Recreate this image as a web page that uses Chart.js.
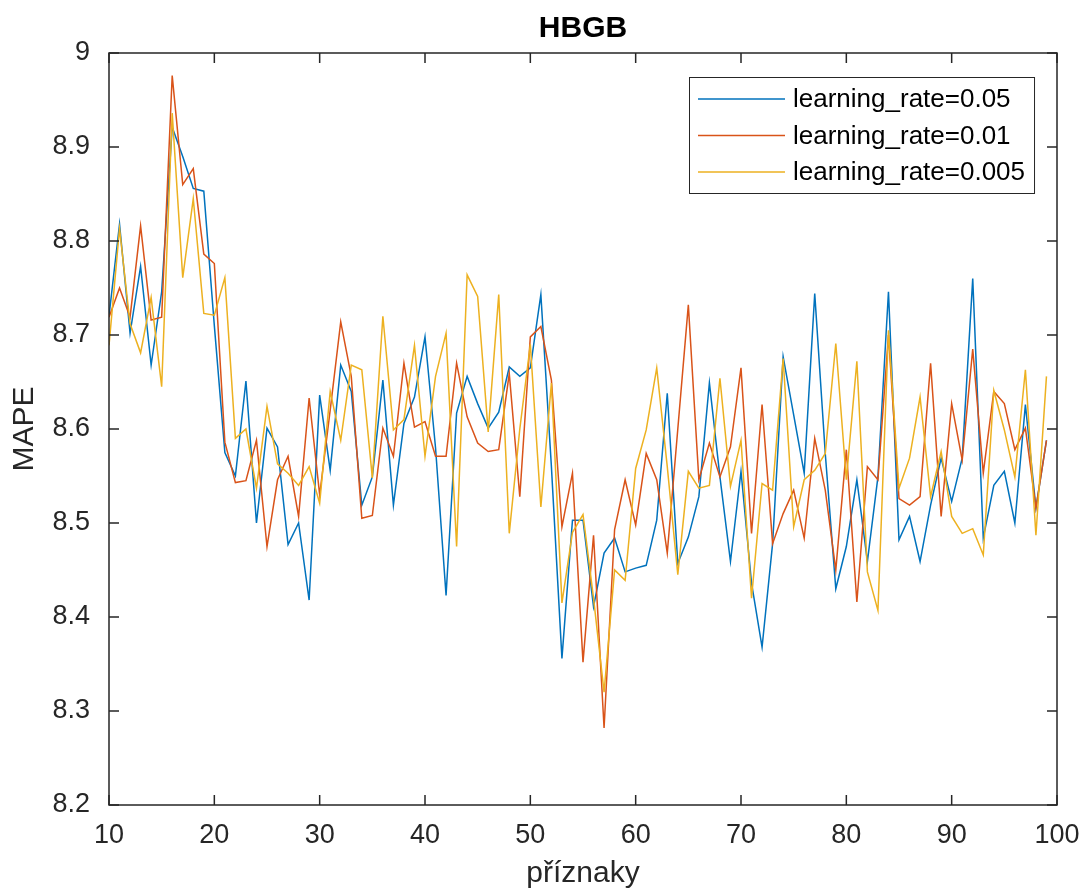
<!DOCTYPE html>
<html>
<head>
<meta charset="utf-8">
<title>HBGB</title>
<script src="https://cdn.jsdelivr.net/npm/chart.js@4.4.0/dist/chart.umd.min.js"></script>
<style>
  html, body { margin: 0; padding: 0; background: #fff; }
  #wrap { width: 1086px; height: 892px; }
</style>
</head>
<body>
<div id="wrap"><canvas id="chart" width="1086" height="892"></canvas></div>
<script>
// number of features (x axis)
const features = [10, 11, 12, 13, 14, 15, 16, 17, 18, 19,
    20, 21, 22, 23, 24, 25, 26, 27, 28, 29,
    30, 31, 32, 33, 34, 35, 36, 37, 38, 39,
    40, 41, 42, 43, 44, 45, 46, 47, 48, 49,
    50, 51, 52, 53, 54, 55, 56, 57, 58, 59,
    60, 61, 62, 63, 64, 65, 66, 67, 68, 69,
    70, 71, 72, 73, 74, 75, 76, 77, 78, 79,
    80, 81, 82, 83, 84, 85, 86, 87, 88, 89,
    90, 91, 92, 93, 94, 95, 96, 97, 98, 99];

// MAPE, learning_rate=0.05
const mape005 = [8.720, 8.818, 8.702, 8.773, 8.668, 8.746, 8.921, 8.890, 8.856, 8.853,
    8.710, 8.575, 8.550, 8.651, 8.500, 8.601, 8.581, 8.477, 8.500, 8.418,
    8.636, 8.556, 8.668, 8.640, 8.519, 8.549, 8.652, 8.519, 8.606, 8.634,
    8.698, 8.580, 8.423, 8.617, 8.656, 8.627, 8.601, 8.618, 8.666, 8.656,
    8.665, 8.743, 8.560, 8.356, 8.503, 8.503, 8.411, 8.468, 8.484, 8.448,
    8.452, 8.455, 8.503, 8.638, 8.457, 8.485, 8.528, 8.649, 8.549, 8.459,
    8.555, 8.436, 8.368, 8.478, 8.677, 8.615, 8.553, 8.744, 8.574, 8.430,
    8.475, 8.546, 8.459, 8.549, 8.746, 8.482, 8.507, 8.459, 8.519, 8.569,
    8.523, 8.569, 8.760, 8.484, 8.540, 8.555, 8.500, 8.626, 8.516, 8.588];

// MAPE, learning_rate=0.01
const mape001 = [8.719, 8.750, 8.719, 8.816, 8.716, 8.719, 8.976, 8.860, 8.877, 8.786,
    8.776, 8.586, 8.543, 8.545, 8.588, 8.475, 8.546, 8.571, 8.507, 8.633,
    8.530, 8.620, 8.714, 8.656, 8.505, 8.508, 8.601, 8.571, 8.670, 8.602,
    8.608, 8.571, 8.571, 8.670, 8.613, 8.585, 8.576, 8.578, 8.659, 8.528,
    8.698, 8.709, 8.652, 8.496, 8.553, 8.352, 8.487, 8.282, 8.493, 8.546,
    8.498, 8.574, 8.546, 8.468, 8.600, 8.732, 8.546, 8.585, 8.549, 8.581,
    8.665, 8.489, 8.626, 8.478, 8.510, 8.535, 8.484, 8.590, 8.535, 8.450,
    8.578, 8.416, 8.560, 8.546, 8.700, 8.526, 8.519, 8.528, 8.670, 8.507,
    8.627, 8.567, 8.685, 8.553, 8.640, 8.627, 8.578, 8.601, 8.516, 8.588];

// MAPE, learning_rate=0.005
const mape0005 = [8.689, 8.813, 8.712, 8.681, 8.740, 8.645, 8.936, 8.761, 8.845, 8.723,
    8.721, 8.761, 8.590, 8.600, 8.537, 8.624, 8.563, 8.553, 8.540, 8.560,
    8.521, 8.640, 8.588, 8.668, 8.663, 8.548, 8.720, 8.599, 8.610, 8.689,
    8.571, 8.656, 8.702, 8.475, 8.764, 8.741, 8.597, 8.743, 8.489, 8.600,
    8.690, 8.517, 8.649, 8.415, 8.490, 8.509, 8.420, 8.320, 8.450, 8.439,
    8.558, 8.599, 8.665, 8.560, 8.445, 8.555, 8.537, 8.540, 8.654, 8.539,
    8.588, 8.420, 8.542, 8.535, 8.675, 8.496, 8.546, 8.556, 8.574, 8.691,
    8.546, 8.672, 8.448, 8.407, 8.705, 8.537, 8.569, 8.634, 8.528, 8.576,
    8.507, 8.489, 8.494, 8.466, 8.641, 8.599, 8.549, 8.663, 8.487, 8.656];

const seriesNames = ['learning_rate=0.05', 'learning_rate=0.01', 'learning_rate=0.005'];
const xTickLabels = ['10', '20', '30', '40', '50', '60', '70', '80', '90', '100'];
const yTickLabels = ['8.2', '8.3', '8.4', '8.5', '8.6', '8.7', '8.8', '8.9', '9'];

const FONT = "'Liberation Sans', Arial, Helvetica, sans-serif";
const INK = '#262626';
const TICK = 10;

function points(ys) {
    return features.map((x, i) => ({ x: x, y: ys[i] }));
}

// matlab style box, inward ticks on all four sides, legend inside the axes
const frameAndLegend = {
    id: 'frameAndLegend',
    afterDatasetsDraw(chart) {
        const { ctx, chartArea: a, scales } = chart;
        ctx.save();
        ctx.strokeStyle = INK;
        ctx.lineWidth = 1.5;
        ctx.strokeRect(a.left, a.top, a.right - a.left, a.bottom - a.top);
        ctx.beginPath();
        scales.x.ticks.forEach(t => {
            const px = scales.x.getPixelForValue(t.value);
            ctx.moveTo(px, a.bottom); ctx.lineTo(px, a.bottom - TICK);
            ctx.moveTo(px, a.top); ctx.lineTo(px, a.top + TICK);
        });
        scales.y.ticks.forEach(t => {
            const py = scales.y.getPixelForValue(t.value);
            ctx.moveTo(a.left, py); ctx.lineTo(a.left + TICK, py);
            ctx.moveTo(a.right, py); ctx.lineTo(a.right - TICK, py);
        });
        ctx.stroke();

        // legend
        ctx.font = '26px ' + FONT;
        const sets = chart.data.datasets;
        const textW = Math.max(...sets.map(d => ctx.measureText(d.label).width));
        const boxW = 9 + 87 + 8 + textW + 9;
        const boxH = 116;
        const bx = Math.round(a.right - 23 - boxW);
        const by = Math.round(a.top + 24);
        ctx.fillStyle = '#fff';
        ctx.fillRect(bx, by, boxW, boxH);
        ctx.lineWidth = 1;
        ctx.strokeStyle = INK;
        ctx.strokeRect(bx + 0.5, by + 0.5, boxW, boxH);
        sets.forEach((d, i) => {
            const cy = by + 22 + i * 36.5;
            ctx.strokeStyle = d.borderColor;
            ctx.lineWidth = 1.5;
            ctx.beginPath();
            ctx.moveTo(bx + 9, cy);
            ctx.lineTo(bx + 96, cy);
            ctx.stroke();
            ctx.fillStyle = '#000';
            ctx.textAlign = 'left';
            ctx.textBaseline = 'middle';
            ctx.fillText(d.label, bx + 104, cy + 1);
        });
        ctx.restore();
    }
};

const ctx = document.getElementById('chart').getContext('2d');
const chart = new Chart(ctx, {
    type: 'line',
    data: {
        datasets: [
            { label: seriesNames[0], data: points(mape005), borderColor: '#0072BD', order: 2 },
            { label: seriesNames[1], data: points(mape001), borderColor: '#D95319', order: 1 },
            { label: seriesNames[2], data: points(mape0005), borderColor: '#EDB120', order: 0 }
        ]
    },
    options: {
        responsive: false,
        animation: false,
        elements: {
            line: { borderWidth: 1.5, tension: 0, fill: false },
            point: { radius: 0, hoverRadius: 0 }
        },
        layout: { padding: { left: 0, right: 29, top: 0, bottom: 0 } },
        plugins: {
            legend: { display: false },
            tooltip: { enabled: false },
            title: {
                display: true,
                fullSize: false,
                text: 'HBGB',
                color: '#000',
                font: { family: FONT, size: 30, weight: 'bold' },
                padding: { top: 11, bottom: 6 }
            }
        },
        scales: {
            x: {
                type: 'linear',
                min: 10,
                max: 100,
                grid: { display: false, drawTicks: false },
                border: { display: false },
                ticks: {
                    stepSize: 10,
                    color: INK,
                    font: { family: FONT, size: 27 },
                    padding: 14,
                    maxRotation: 0,
                    callback: (v, i) => xTickLabels[i] ?? v
                },
                title: {
                    display: true,
                    text: 'příznaky',
                    color: INK,
                    font: { family: FONT, size: 30 },
                    padding: { top: 0, bottom: 0 }
                },
                afterFit(s) {
                    s.height = 87;
                    s.paddingLeft = 0;
                    s.paddingRight = 0;
                }
            },
            y: {
                type: 'linear',
                min: 8.2,
                max: 9,
                grid: { display: false, drawTicks: false },
                border: { display: false },
                ticks: {
                    stepSize: 0.1,
                    color: INK,
                    font: { family: FONT, size: 27 },
                    padding: 19,
                    callback: (v, i) => yTickLabels[i] ?? v
                },
                title: {
                    display: true,
                    text: 'MAPE',
                    color: INK,
                    font: { family: FONT, size: 30 },
                    padding: { top: 7, bottom: 0 }
                },
                afterFit(s) { s.width = 109; }
            }
        }
    },
    plugins: [frameAndLegend]
});
</script>
</body>
</html>
